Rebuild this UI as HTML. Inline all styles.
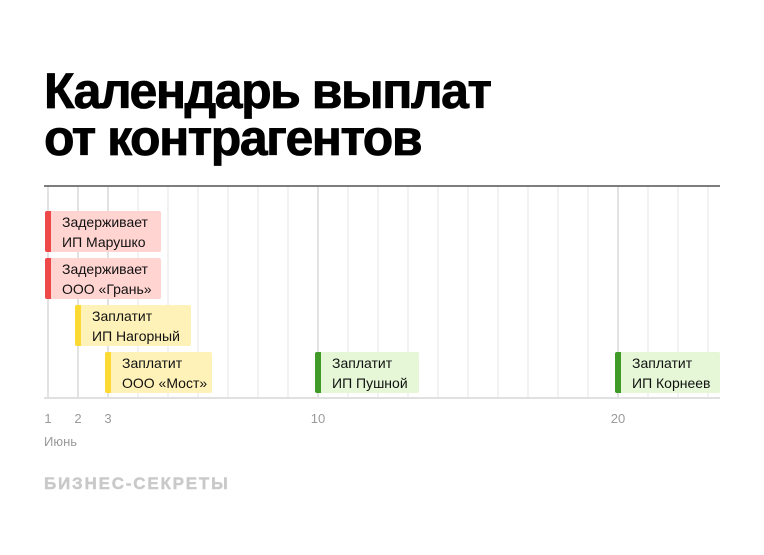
<!DOCTYPE html>
<html><head><meta charset="utf-8">
<style>
*{margin:0;padding:0;box-sizing:border-box}
body{width:764px;height:555px;background:#fff;position:relative;overflow:hidden;font-family:"Liberation Sans",sans-serif}
.title{position:absolute;left:44px;top:68px;font-size:50px;font-weight:bold;line-height:47px;color:#000;letter-spacing:-1.5px;white-space:nowrap;-webkit-text-stroke:0.8px #000}
.g{position:absolute;top:187px;height:211px;width:2px;background:#f2f2f2}
.g.m{background:#e2e2e2}
.top{position:absolute;left:44px;top:185px;width:676px;height:2px;background:#7d7d7d}
.bot{position:absolute;left:44px;top:397px;width:676px;height:2px;background:#e0e0e0}
.bar{position:absolute;height:41px;border-radius:2px;font-size:14px;line-height:19.5px;color:#111;padding:2px 0 0 17px;white-space:nowrap}
.bar::before{content:"";position:absolute;left:0;top:0;bottom:0;width:6px;border-radius:2px 0 0 2px}
.r{background:#ffd4d1}.r::before{background:#ef4848}
.y{background:#fff2b8}.y::before{background:#fcd933}
.gr{background:#e5f7d6}.gr::before{background:#3f9a27}
.t{position:absolute;top:411px;font-size:13px;color:#9a9a9a;width:30px;text-align:center;margin-left:-15px}
.brand{position:absolute;left:44px;top:474px;font-size:17px;font-weight:bold;color:#c9c9c9;letter-spacing:1.8px;-webkit-text-stroke:0.4px #c9c9c9}
</style></head><body>
<div class="title">Календарь выплат<br>от контрагентов</div>

<div class="g m" style="left:47px"></div>
<div class="g m" style="left:77px"></div>
<div class="g m" style="left:107px"></div>
<div class="g" style="left:137px"></div>
<div class="g" style="left:167px"></div>
<div class="g" style="left:197px"></div>
<div class="g" style="left:227px"></div>
<div class="g" style="left:257px"></div>
<div class="g" style="left:287px"></div>
<div class="g m" style="left:317px"></div>
<div class="g" style="left:347px"></div>
<div class="g" style="left:377px"></div>
<div class="g" style="left:407px"></div>
<div class="g" style="left:437px"></div>
<div class="g" style="left:467px"></div>
<div class="g" style="left:497px"></div>
<div class="g" style="left:527px"></div>
<div class="g" style="left:557px"></div>
<div class="g" style="left:587px"></div>
<div class="g m" style="left:617px"></div>
<div class="g" style="left:647px"></div>
<div class="g" style="left:677px"></div>
<div class="g" style="left:707px"></div>

<div class="top"></div>
<div class="bot"></div>

<div class="bar r" style="left:45px;top:211px;width:116px">Задерживает<br>ИП Марушко</div>
<div class="bar r" style="left:45px;top:258px;width:116px">Задерживает<br>ООО «Грань»</div>
<div class="bar y" style="left:75px;top:305px;width:116px">Заплатит<br>ИП Нагорный</div>
<div class="bar y" style="left:105px;top:352px;width:107px">Заплатит<br>ООО «Мост»</div>
<div class="bar gr" style="left:315px;top:352px;width:104px">Заплатит<br>ИП Пушной</div>
<div class="bar gr" style="left:615px;top:352px;width:105px">Заплатит<br>ИП Корнеев</div>

<div class="t" style="left:48px">1</div>
<div class="t" style="left:78px">2</div>
<div class="t" style="left:108px">3</div>
<div class="t" style="left:318px">10</div>
<div class="t" style="left:618px">20</div>
<div style="position:absolute;left:44px;top:434px;font-size:13px;color:#9a9a9a">Июнь</div>

<div class="brand">БИЗНЕС-СЕКРЕТЫ</div>
</body></html>
